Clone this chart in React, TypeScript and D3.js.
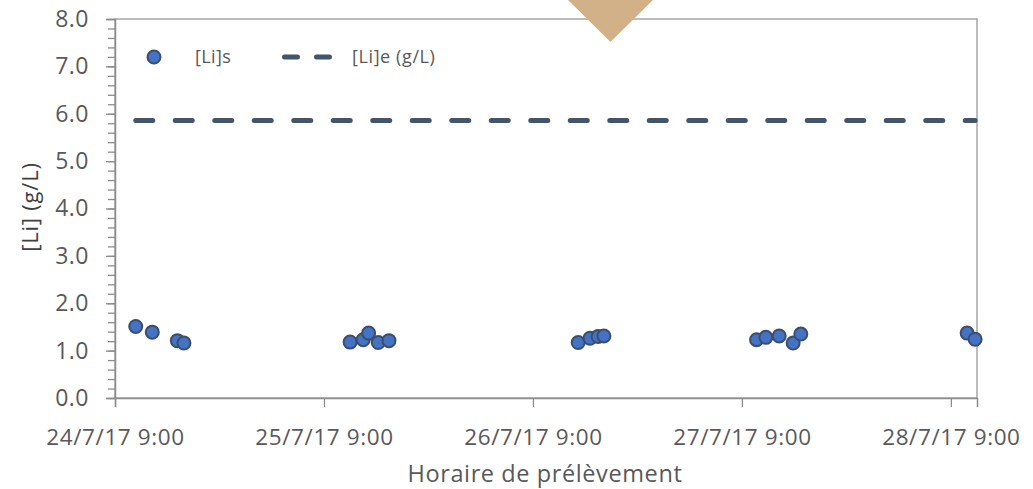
import * as d3 from "d3";
import { useEffect, useRef } from "react";

// sample times and [Li]s values (g/L)
const sampleTimes = [
  "2017-07-24 11:23", "2017-07-24 13:17", "2017-07-24 16:10", "2017-07-24 16:55",
  "2017-07-25 12:00", "2017-07-25 13:30", "2017-07-25 14:08", "2017-07-25 15:14", "2017-07-25 16:28",
  "2017-07-26 14:12", "2017-07-26 15:33", "2017-07-26 16:29", "2017-07-26 17:09",
  "2017-07-27 10:41", "2017-07-27 11:45", "2017-07-27 13:17", "2017-07-27 14:53", "2017-07-27 15:46",
  "2017-07-28 10:52", "2017-07-28 11:47",
];
const liS = [
  1.51, 1.39, 1.21, 1.16,
  1.18, 1.23, 1.37, 1.17, 1.21,
  1.17, 1.26, 1.30, 1.31,
  1.23, 1.28, 1.31, 1.16, 1.35,
  1.37, 1.24,
];
const liE = 5.86;

const xTicks = [
  "2017-07-24 09:00", "2017-07-25 09:00", "2017-07-26 09:00", "2017-07-27 09:00", "2017-07-28 09:00",
];
const xDomain = ["2017-07-24 09:00", "2017-07-28 12:00"];
const yMajor = [0, 1, 2, 3, 4, 5, 6, 7, 8];

const FONT = "'Open Sans', sans-serif";

export default function App() {
  const ref = useRef<SVGSVGElement | null>(null);

  useEffect(() => {
    if (!ref.current) return;
    const svg = d3.select(ref.current);
    svg.selectAll("*").remove();

    const W = 1033;
    const H = 489;
    const plot = { left: 115, right: 977, top: 19, bottom: 398 };
    const parse = d3.timeParse("%Y-%m-%d %H:%M");

    const data = sampleTimes.map((t, i) => ({ t: parse(t)!, v: liS[i] }));

    svg.attr("width", W).attr("height", H);
    svg.append("rect").attr("width", W).attr("height", H).attr("fill", "#fff");

    const x = d3
      .scaleTime()
      .domain(xDomain.map((d) => parse(d)!))
      .range([plot.left, plot.right]);
    const y = d3.scaleLinear().domain([0, 8]).range([plot.bottom, plot.top]);

    // plot frame
    svg
      .append("rect")
      .attr("x", plot.left)
      .attr("y", plot.top)
      .attr("width", plot.right - plot.left)
      .attr("height", plot.bottom - plot.top)
      .attr("fill", "none")
      .attr("stroke", "#a6a6a6")
      .attr("stroke-width", 1.5);

    /* -----------------------------
        Y AXIS
    ----------------------------- */
    const minor = d3.range(0, 8.001, 0.2);
    const yMinor = svg
      .append("g")
      .attr("transform", `translate(${plot.left},0)`)
      .call(d3.axisLeft(y).tickValues(minor).tickSize(7).tickFormat(() => ""));
    yMinor.select(".domain").remove();

    const yAxis = svg
      .append("g")
      .attr("transform", `translate(${plot.left},0)`)
      .call(
        d3
          .axisLeft(y)
          .tickValues(yMajor)
          .tickSize(9)
          .tickPadding(17)
          .tickFormat((d) => d3.format(".1f")(d as number))
      );
    yAxis.select(".domain").attr("stroke", "#8c8c8c").attr("stroke-width", 1.5);
    svg.selectAll(".tick line").attr("stroke", "#8c8c8c").attr("stroke-width", 1.3);
    yAxis
      .selectAll("text")
      .attr("fill", "#595959")
      .style("font-family", FONT)
      .style("font-size", "23px")
      .style("letter-spacing", "0.5px");

    /* -----------------------------
        X AXIS
    ----------------------------- */
    const xAxis = svg
      .append("g")
      .attr("transform", `translate(0,${plot.bottom})`)
      .call(
        d3
          .axisBottom(x)
          .tickValues(xTicks.map((d) => parse(d)!))
          .tickSize(9)
          .tickFormat((d) => d3.timeFormat("%-d/%-m/%y %-H:%M")(d as Date))
      );
    xAxis.select(".domain").attr("stroke", "#8c8c8c").attr("stroke-width", 1.5);
    xAxis.selectAll(".tick line").attr("stroke", "#8c8c8c").attr("stroke-width", 1.3);
    xAxis
      .selectAll("text")
      .attr("y", 47)
      .attr("dy", 0)
      .attr("fill", "#595959")
      .style("font-family", FONT)
      .style("font-size", "22.5px")
      .style("letter-spacing", "0.6px");

    /* -----------------------------
        TITLES
    ----------------------------- */
    svg
      .append("text")
      .attr("x", 545)
      .attr("y", 482)
      .attr("text-anchor", "middle")
      .attr("fill", "#595959")
      .style("font-family", FONT)
      .style("font-size", "23.5px")
      .style("letter-spacing", "0.6px")
      .text("Horaire de prélèvement");

    svg
      .append("text")
      .attr("transform", "translate(38,207) rotate(-90)")
      .attr("text-anchor", "middle")
      .attr("fill", "#404040")
      .style("font-family", FONT)
      .style("font-size", "22px")
      .style("letter-spacing", "0.8px")
      .text("[Li] (g/L)");

    /* -----------------------------
        [Li]e DASHED LINE
    ----------------------------- */
    const ext = d3.extent(data, (d) => d.t) as [Date, Date];
    svg
      .append("path")
      .attr(
        "d",
        d3.line<Date>().x((d) => x(d)).y(() => y(liE))(ext)!
      )
      .attr("fill", "none")
      .attr("stroke", "#44546a")
      .attr("stroke-width", 5)
      .attr("stroke-linecap", "round")
      .attr("stroke-dasharray", "17 22.5");

    /* -----------------------------
        [Li]s POINTS
    ----------------------------- */
    svg
      .append("g")
      .selectAll("circle")
      .data(data)
      .enter()
      .append("circle")
      .attr("cx", (d) => x(d.t))
      .attr("cy", (d) => y(d.v))
      .attr("r", 6.5)
      .attr("fill", "#4472c4")
      .attr("stroke", "#3b4e6b")
      .attr("stroke-width", 2);

    /* -----------------------------
        LEGEND
    ----------------------------- */
    const legend = svg.append("g");
    legend
      .append("circle")
      .attr("cx", 154)
      .attr("cy", 57)
      .attr("r", 6.5)
      .attr("fill", "#4472c4")
      .attr("stroke", "#3b4e6b")
      .attr("stroke-width", 2);
    legend
      .append("text")
      .attr("x", 195)
      .attr("y", 63)
      .attr("fill", "#595959")
      .style("font-family", FONT)
      .style("font-size", "18px")
      .style("letter-spacing", "0.4px")
      .text("[Li]s");
    legend
      .append("line")
      .attr("x1", 284.5)
      .attr("x2", 329.5)
      .attr("y1", 57)
      .attr("y2", 57)
      .attr("stroke", "#44546a")
      .attr("stroke-width", 5)
      .attr("stroke-linecap", "round")
      .attr("stroke-dasharray", "13 19");
    legend
      .append("text")
      .attr("x", 352)
      .attr("y", 63)
      .attr("fill", "#595959")
      .style("font-family", FONT)
      .style("font-size", "18px")
      .style("letter-spacing", "0.6px")
      .text("[Li]e (g/L)");

    /* -----------------------------
        MARKER TRIANGLE
    ----------------------------- */
    svg
      .append("path")
      .attr("d", "M566,-2 L655,-2 L610.5,42 Z")
      .attr("fill", "#d3b188");
  }, []);

  return (
    <svg
      ref={ref}
      style={{ position: "fixed", left: 0, top: 0, width: 1033, height: 489 }}
    />
  );
}
